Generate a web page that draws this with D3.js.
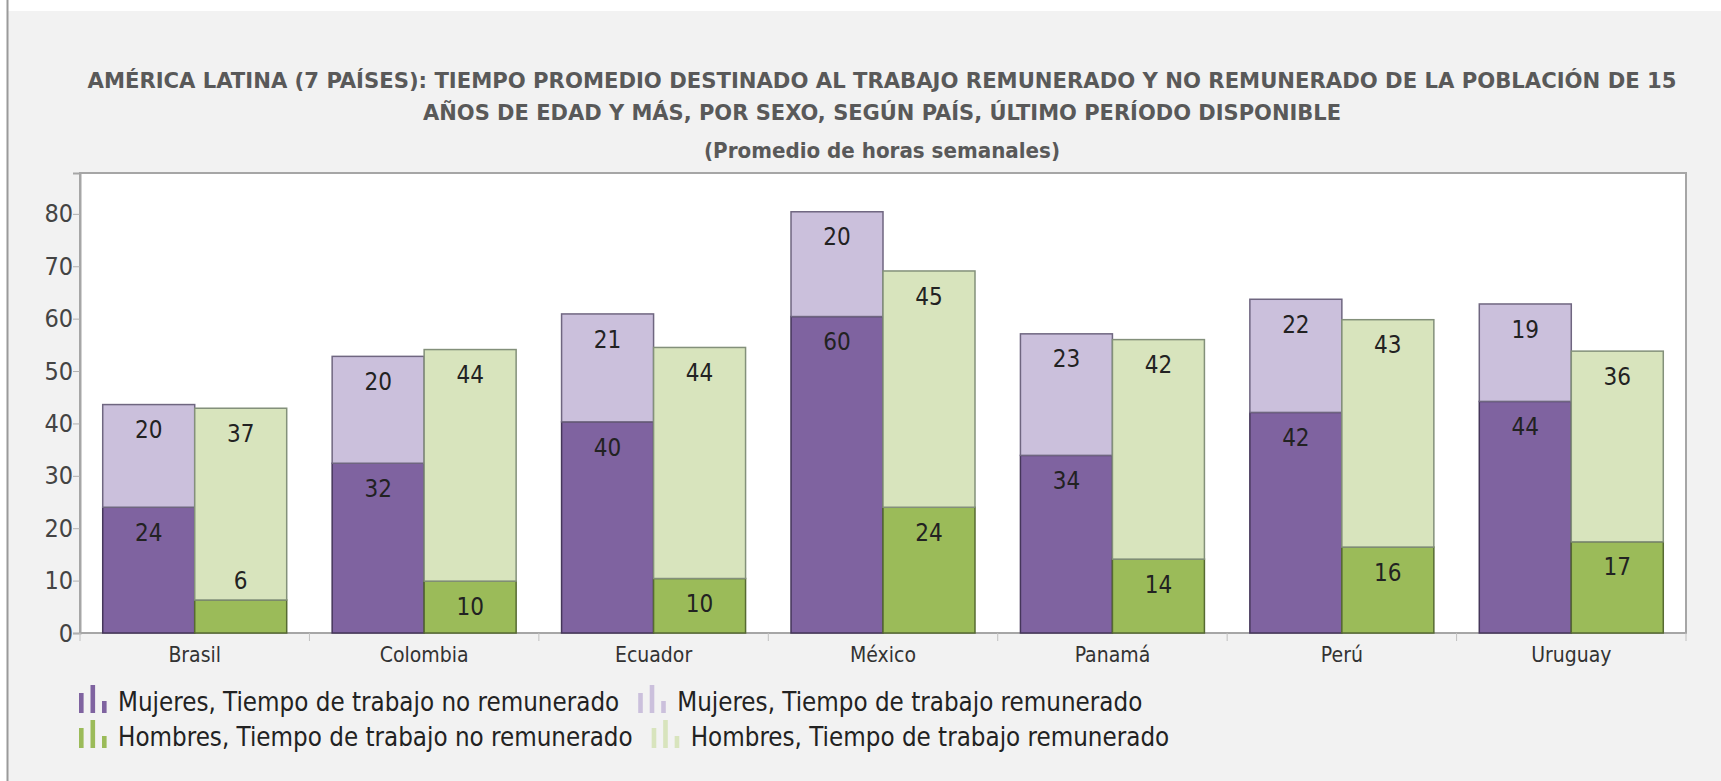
<!DOCTYPE html>
<html><head><meta charset="utf-8">
<script src="https://cdn.jsdelivr.net/npm/d3@7/dist/d3.min.js"></script>
<style>
html,body{margin:0;padding:0;background:#fff;}
svg{display:block;font-family:"DejaVu Sans Condensed","DejaVu Sans",sans-serif;}
</style></head>
<body><svg id="c" width="1721" height="781"></svg>
<script>
const countries = ["Brasil","Colombia","Ecuador","México","Panamá","Perú","Uruguay"];
const mujeresNoRem = [24.0, 32.4, 40.3, 60.4, 33.9, 42.1, 44.2];
const mujeresRem   = [19.6, 20.4, 20.6, 20.0, 23.2, 21.6, 18.6];
const hombresNoRem = [6.3, 9.9, 10.4, 24.0, 14.1, 16.4, 17.4];
const hombresRem   = [36.6, 44.2, 44.1, 45.1, 41.9, 43.4, 36.4];
const yTicks = [0,10,20,30,40,50,60,70,80];
const seriesNames = [
  "Mujeres, Tiempo de trabajo no remunerado",
  "Mujeres, Tiempo de trabajo remunerado",
  "Hombres, Tiempo de trabajo no remunerado",
  "Hombres, Tiempo de trabajo remunerado"
];
const colors = ["#7f63a0","#cbc0dc","#9bbb59","#d8e4bd"];
const strokes = ["#45365a","#6f6680","#566a32","#83907a"];
const titleLines = [
  "AMÉRICA LATINA (7 PAÍSES): TIEMPO PROMEDIO DESTINADO AL TRABAJO REMUNERADO Y NO REMUNERADO DE LA POBLACIÓN DE 15",
  "AÑOS DE EDAD Y MÁS, POR SEXO, SEGÚN PAÍS, ÚLTIMO PERÍODO DISPONIBLE"
];
const subtitle = "(Promedio de horas semanales)";

const svg = d3.select("#c");
// background
svg.append("rect").attr("x",8).attr("y",11).attr("width",1713).attr("height",770).attr("fill","#f2f2f2");
svg.append("line").attr("x1",7.5).attr("x2",7.5).attr("y1",0).attr("y2",781).attr("stroke","#9a9a9a").attr("stroke-width",2);

const X0=80, X1=1686, Y0=173, Y1=633;
const y = d3.scaleLinear().domain([0,87.8]).range([Y1,Y0]);
const x = d3.scaleBand().domain(countries).range([X0,X1]);
const inner = d3.scaleBand().domain(["M","H"]).range([0,x.bandwidth()]).paddingOuter(0.247);

// titles
const cx = 882;
const titleSpecs = [[titleLines[0],88,1589],[titleLines[1],120,918],[subtitle,158,356]];
titleSpecs.forEach(([t,ty,tl])=>{
  svg.append("text").attr("x",cx).attr("y",ty).attr("text-anchor","middle")
    .attr("font-size",22).attr("font-weight","bold").attr("fill","#595959")
    .attr("textLength",tl).attr("lengthAdjust","spacingAndGlyphs").text(t);
});

// plot area
svg.append("rect").attr("x",X0).attr("y",Y0).attr("width",X1-X0).attr("height",Y1-Y0)
  .attr("fill","#fff").attr("stroke","#a6a6a6").attr("stroke-width",2);

// y axis
const yAxis = svg.append("g").attr("transform",`translate(${X0},0)`)
  .call(d3.axisLeft(y).tickValues(yTicks).tickSize(7).tickPadding(0));
yAxis.select(".domain").attr("stroke","#a6a6a6").attr("stroke-width",2);
yAxis.selectAll(".tick line").attr("stroke","#b0b0b0");
yAxis.selectAll(".tick text").attr("font-size",25).attr("fill","#444")
  .attr("font-family","'DejaVu Sans Condensed',sans-serif");

// x axis
const xAxis = svg.append("g").attr("transform",`translate(0,${Y1})`)
  .call(d3.axisBottom(x).tickSize(0).tickPadding(14));
xAxis.select(".domain").remove();
xAxis.selectAll(".tick text").attr("font-size",21).attr("fill","#333")
  .attr("font-family","'DejaVu Sans Condensed',sans-serif");
svg.append("g").selectAll("line").data(countries.concat(["__end"])).join("line")
  .attr("x1",(d,i)=>X0+i*x.step()).attr("x2",(d,i)=>X0+i*x.step())
  .attr("y1",Y1).attr("y2",Y1+8).attr("stroke","#c0c0c0");

// bars
const groups = [
  {key:"M", low:mujeresNoRem, high:mujeresRem, ci:[0,1]},
  {key:"H", low:hombresNoRem, high:hombresRem, ci:[2,3]}
];
const fmt = d3.format(".0f");
const gBars = svg.append("g");
const gLabels = svg.append("g");
groups.forEach(g=>{
  countries.forEach((c,i)=>{
    const bx = x(c)+inner(g.key), bw = inner.bandwidth();
    const segs = [{v0:0,v1:g.low[i],val:g.low[i],col:g.ci[0]},
                  {v0:g.low[i],v1:g.low[i]+g.high[i],val:g.high[i],col:g.ci[1]}];
    segs.forEach(s=>{
      gBars.append("rect").attr("x",bx).attr("y",y(s.v1)).attr("width",bw)
        .attr("height",y(s.v0)-y(s.v1)).attr("fill",colors[s.col])
        .attr("stroke",strokes[s.col]).attr("stroke-width",1.5);
      const h = y(s.v0)-y(s.v1);
      const ly = h < 45 ? y(s.v1)-20 : y(s.v1)+25;
      gLabels.append("text").attr("x",bx+bw/2).attr("y",ly).attr("dy","0.36em")
        .attr("text-anchor","middle").attr("font-size",24).attr("fill","#222")
        .text(fmt(s.val));
    });
  });
});

// legend: two rows, items flow left to right
const rows = [[0,1],[2,3]];
const rowY = [702,737];
const lg = svg.append("g");
rows.forEach((r,ri)=>{
  let lx = 79;
  r.forEach(i=>{
    const g = lg.append("g").attr("transform",`translate(${lx},${rowY[ri]})`);
    [[0,-9,20],[11.5,-17,28],[23,-1,12]].forEach(b=>{
      g.append("rect").attr("x",b[0]).attr("y",b[1]).attr("width",4.6).attr("height",b[2]).attr("fill",colors[i]);
    });
    const t = g.append("text").attr("x",39).attr("y",0).attr("dy","0.36em").attr("font-size",25.7)
      .attr("fill","#222").text(seriesNames[i]);
    lx += 39 + t.node().getComputedTextLength() + 19;
  });
});
</script></body></html>
